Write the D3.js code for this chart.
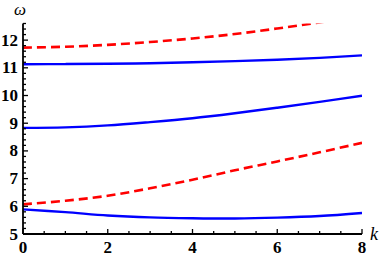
<!DOCTYPE html>
<html>
<head>
  <meta charset="UTF-8">
  <style>
    body { margin: 0; background: white; }
    svg { display: block; }
    text.lab { font-family: "Liberation Serif"; font-weight: 700; font-size: 17px; }
    text.ttl { font-family: "Liberation Serif"; font-style: italic; font-size: 17px; }
  </style>
</head>
<body>
<svg></svg>
<script src="https://d3js.org/d3.v7.min.js"></script>
<script>
// wave numbers
let kValues = [0, 1, 2, 3, 4, 5, 6, 7, 8];

// blue solid branches
let blueLow  = [5.89, 5.79, 5.67, 5.60, 5.57, 5.56, 5.59, 5.65, 5.76];
let blueMid  = [8.83, 8.85, 8.92, 9.04, 9.18, 9.36, 9.56, 9.77, 9.99];
let blueHigh = [11.13, 11.135, 11.145, 11.165, 11.20, 11.24, 11.29, 11.36, 11.45];

// red dashed branches
let redLow  = [6.07, 6.20, 6.38, 6.65, 6.96, 7.30, 7.62, 7.95, 8.29];
let redHigh = [11.73, 11.76, 11.83, 11.93, 12.06, 12.22, 12.42, 12.64, 12.88];

let xTicks = [0, 2, 4, 6, 8];
let yTicks = [5, 6, 7, 8, 9, 10, 11, 12];

let width = 382, height = 258;
let svg = d3.select("svg").attr("width", width).attr("height", height);

let x = d3.scaleLinear().domain([0, 8]).range([23, 362]);
let y = d3.scaleLinear().domain([5, 12.6]).range([234, 23.5]);

svg.append("defs").append("clipPath").attr("id", "plot")
  .append("rect")
  .attr("x", x(0)).attr("y", y(12.6))
  .attr("width", x(8) - x(0)).attr("height", y(5) - y(12.6));

let line = d3.line()
  .x((d, i) => x(kValues[i]))
  .y(d => y(d))
  .curve(d3.curveCatmullRom.alpha(0.5));

let curves = svg.append("g").attr("clip-path", "url(#plot)");

[redLow, redHigh].forEach(s => {
  curves.append("path")
    .attr("d", line(s))
    .attr("fill", "none")
    .attr("stroke", "#ff0000")
    .attr("stroke-width", 2.6)
    .attr("stroke-dasharray", "9,5");
});

[blueLow, blueMid, blueHigh].forEach(s => {
  curves.append("path")
    .attr("d", line(s))
    .attr("fill", "none")
    .attr("stroke", "#0000ff")
    .attr("stroke-width", 2.4);
});

// axes
let axes = svg.append("g");
axes.append("line")
  .attr("x1", x(0)).attr("x2", x(8))
  .attr("y1", y(5)).attr("y2", y(5))
  .attr("stroke", "black").attr("stroke-width", 1.8);
axes.append("line")
  .attr("x1", x(0)).attr("x2", x(0))
  .attr("y1", y(5)).attr("y2", y(12.6))
  .attr("stroke", "black").attr("stroke-width", 1.8);

// x ticks (inward)
let xMinor = d3.range(0, 8.01, 0.5).filter(v => v % 2 !== 0);
axes.selectAll(".xmaj").data(xTicks).enter().append("line")
  .attr("x1", d => x(d)).attr("x2", d => x(d))
  .attr("y1", y(5)).attr("y2", y(5) - 5)
  .attr("stroke", "black").attr("stroke-width", 1.3);
axes.selectAll(".xmin").data(xMinor).enter().append("line")
  .attr("x1", d => x(d)).attr("x2", d => x(d))
  .attr("y1", y(5)).attr("y2", y(5) - 3)
  .attr("stroke", "black").attr("stroke-width", 1.3);

// y ticks (inward)
let yMinor = d3.range(5, 12.61, 0.2).filter(v => Math.abs(v - Math.round(v)) > 0.01);
axes.selectAll(".ymaj").data(yTicks).enter().append("line")
  .attr("x1", x(0)).attr("x2", x(0) + 5)
  .attr("y1", d => y(d)).attr("y2", d => y(d))
  .attr("stroke", "black").attr("stroke-width", 1.3);
axes.selectAll(".ymin").data(yMinor).enter().append("line")
  .attr("x1", x(0)).attr("x2", x(0) + 3)
  .attr("y1", d => y(d)).attr("y2", d => y(d))
  .attr("stroke", "black").attr("stroke-width", 1.3);

// tick labels
axes.selectAll(".xlab").data(xTicks).enter().append("text")
  .attr("class", "lab")
  .attr("x", d => x(d)).attr("y", 253)
  .attr("text-anchor", "middle")
  .text(d => d);
axes.selectAll(".ylab").data(yTicks).enter().append("text")
  .attr("class", "lab")
  .attr("x", 18).attr("y", d => y(d) + 5.5)
  .attr("text-anchor", "end")
  .text(d => d);

// axis titles
svg.append("text").attr("class", "ttl")
  .attr("x", 14).attr("y", 15)
  .text("ω");
svg.append("text").attr("class", "ttl")
  .attr("x", 370).attr("y", 240)
  .style("font-size", "18px")
  .text("k");
</script>
</body>
</html>
